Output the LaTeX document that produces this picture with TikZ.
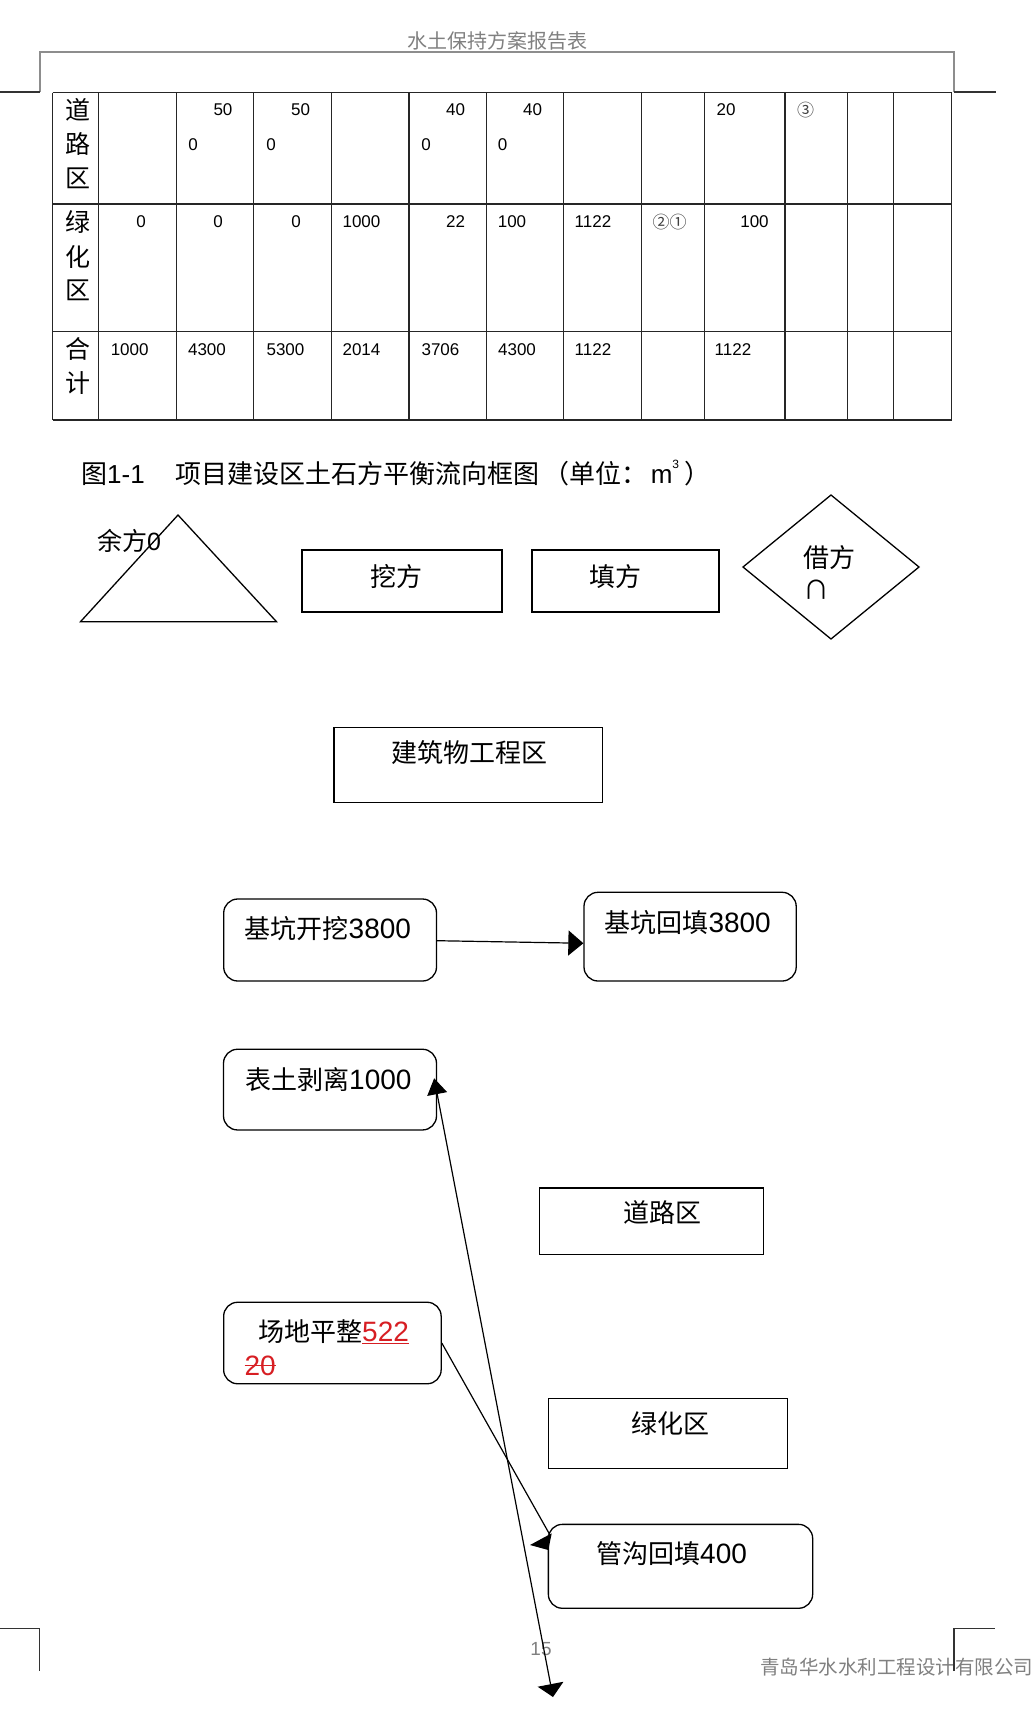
\documentclass[tikz,border=0pt]{standalone}
\usepackage{fontspec}
\setmainfont{Liberation Sans}
\newfontfamily\cjk{Noto Sans CJK SC}
\usetikzlibrary{arrows.meta,calc}
\newcommand\fsz[1]{\fontsize{#1}{#1}\selectfont}
\newcommand\strk[1]{\setbox0\hbox{#1}\rlap{\raisebox{0.33em}{\rule{\wd0}{1.3pt}}}\box0}
\definecolor{hdrgray}{RGB}{128,128,128}
\definecolor{redt}{RGB}{215,30,35}
\begin{document}
\begin{tikzpicture}[x=1pt,y=-1pt,
  boxp/.style={draw, line width=1.3pt, inner sep=0pt},
  boxr/.style={boxp, rounded corners=14pt},
  lbl/.style={inner sep=0pt, anchor=west},
  tnum/.style={inner sep=0pt, font=\fsz{17}},
  tcirc/.style={inner sep=0pt, font=\cjk\fsz{17}, text=black!75},
  rowlbl/.style={inner sep=0pt, font=\cjk\fsz{25}},
  tline/.style={line width=1.3pt, black!85},
  shp/.style={line width=1.3pt},
  conn/.style={line width=1.2pt},
  tipA/.style={-{Triangle[length=15pt,width=25pt]}},
  cornermark/.style={line width=1.1pt, black!80}
]
\fill[white] (0,0) rectangle (1035,1719);
\useasboundingbox (0,0) rectangle (1035,1719);

% ---------- page header ----------
\node[font=\cjk\fsz{20}, text=hdrgray, inner sep=0pt] (hdr) at (497,41) {水土保持方案报告表};
\draw[hdrgray!90, line width=1.2pt] (40,92) -- (40,52) -- (954,52) -- (954,92);
\draw[cornermark] (0,92) -- (40,92);
\draw[cornermark] (954,92) -- (996,92);

% ---------- table ----------
\foreach \x in {52.7,98.7,176.3,253.7,331.3,409,486.3,563.7,641.3,704.3,785,847.7,893.7,951.7}
  \draw[tline] (\x,92.7) -- (\x,420);
\foreach \y in {92.7,204,331.7,420}
  \draw[tline] (52.7,\y) -- (951.7,\y);

\node[rowlbl] (ra1) at (78,110) {道};
\node[rowlbl] (ra2) at (78,144) {路};
\node[rowlbl] (ra3) at (78,178) {区};
\node[rowlbl] (rb1) at (78,221.7) {绿};
\node[rowlbl] (rb2) at (78,256.7) {化};
\node[rowlbl] (rb3) at (78,290) {区};
\node[rowlbl] (rc1) at (78,349.3) {合};
\node[rowlbl] (rc2) at (78,383) {计};

% row 1
\node[tnum] (a2a) at (223,110) {50};
\node[tnum] (a2b) at (193,144.3) {0};
\node[tnum] (a3a) at (300.5,110) {50};
\node[tnum] (a3b) at (271,144.3) {0};
\node[tnum] (a5a) at (455.5,110) {40};
\node[tnum] (a5b) at (426,144.3) {0};
\node[tnum] (a6a) at (532.5,110) {40};
\node[tnum] (a6b) at (502.5,144.3) {0};
\node[tnum] (a9) at (726,110) {20};
\node[tcirc] (a10) at (805.5,110) {③};
% row 2
\node[tnum] (b1) at (141,221.7) {0};
\node[tnum] (b2) at (218,221.7) {0};
\node[tnum] (b3) at (296,221.7) {0};
\node[tnum] (b4) at (361.5,221.7) {1000};
\node[tnum] (b5) at (455.5,221.7) {22};
\node[tnum] (b6) at (512,221.7) {100};
\node[tnum] (b7) at (593,221.7) {1122};
\node[tcirc] (b8) at (669.5,221.7) {②①};
\node[tnum] (b9) at (754.5,221.7) {100};
% row 3
\node[tnum] (c1) at (129.7,349.3) {1000};
\node[tnum] (c2) at (207,349.3) {4300};
\node[tnum] (c3) at (285.5,349.3) {5300};
\node[tnum] (c4) at (361.5,349.3) {2014};
\node[tnum] (c5) at (440.5,349.3) {3706};
\node[tnum] (c6) at (517,349.3) {4300};
\node[tnum] (c7) at (593,349.3) {1122};
\node[tnum] (c9) at (733,349.3) {1122};

% ---------- caption ----------
\node[lbl, font=\fsz{26}] (cap) at (81,473)
  {{\cjk 图}1-1\hspace{5pt}{\cjk 　项目建设区土石方平衡流向框图}\hspace{4pt}{\cjk （单位：}\hspace{3pt}m\raisebox{0.6em}{\fsz{12}3}\hspace{5pt}{\cjk ）}};

% ---------- legend ----------
\draw[shp] (178,515) -- (80.5,621.7) -- (276.5,621.7) -- cycle;
\node[lbl, font=\fsz{25}] (yf) at (97,541) {{\cjk 余方}0};

\node[boxp, minimum width=200pt, minimum height=62pt] (wf) at (402,581) {};
\node[lbl, font=\cjk\fsz{26}] (wft) at (370.7,576.5) {挖方};

\node[boxp, minimum width=187pt, minimum height=62pt] (tf) at (625.5,581) {};
\node[lbl, font=\cjk\fsz{26}] (tft) at (589,576.5) {填方};

\draw[shp] (831,495) -- (919,567) -- (831,639) -- (743,567) -- cycle;
\node[lbl, font=\cjk\fsz{26}] (jft) at (803,557.5) {借方};
\node[lbl, font=\cjk\fsz{26}] (jfn) at (803,590) {∩};

% ---------- flow diagram ----------
\node[boxp, minimum width=268.5pt, minimum height=75.4pt] (jz) at (468.25,765) {};
\node[lbl, font=\cjk\fsz{26}] (jzt) at (391,753) {建筑物工程区};

\node[boxr, minimum width=212.8pt, minimum height=82pt] (kw) at (330.1,940) {};
\node[lbl] (kwt) at (244.5,928.5) {{\cjk\fsz{26}基坑开挖}{\fsz{28}3800}};

\node[boxr, minimum width=212.2pt, minimum height=88.7pt] (ht) at (690.1,936.65) {};
\node[lbl] (htt) at (604.3,922.5) {{\cjk\fsz{26}基坑回填}{\fsz{28}3800}};

\draw[conn, tipA] ($(kw.east)+(0,0.7)$) -- ($(ht.west)+(0,6.6)$);

\node[boxr, minimum width=213pt, minimum height=80.7pt] (bt) at (330,1089.6) {};
\node[lbl] (btt) at (245,1080) {{\cjk\fsz{26}表土剥离}{\fsz{28}1000}};

\node[boxp, minimum width=224pt, minimum height=66.4pt] (dl) at (651.7,1221.2) {};
\node[lbl, font=\cjk\fsz{26}] (dlt) at (622.9,1212.6) {道路区};

\node[boxr, minimum width=217.5pt, minimum height=81.5pt] (cd) at (332.4,1343) {};
\node[lbl] (cdt) at (258,1331.5) {{\cjk\fsz{26}场地平整}{\color{redt}\fsz{28}\underline{522}}};
\node[lbl, text=redt, font=\fsz{28}] (cdt2) at (244.4,1365.5) {\strk{20}};

\node[boxp, minimum width=239.2pt, minimum height=70.4pt] (lh) at (668,1433.4) {};
\node[lbl, font=\cjk\fsz{26}] (lht) at (631.6,1423.3) {绿化区};

\node[boxr, minimum width=264.3pt, minimum height=83.9pt] (gg) at (680.5,1566.3) {};
\node[lbl] (ggt) at (596,1554) {{\cjk\fsz{26}管沟回填}{\fsz{28}400}};

% ---------- page footer ----------
\node[font=\fsz{19}, text=hdrgray, inner sep=0pt] (pg) at (541,1649) {15};
\node[lbl, font=\cjk\fsz{19.5}, text=hdrgray] (ft) at (760,1667) {青岛华水水利工程设计有限公司};
\draw[cornermark] (0,1628.5) -- (39.8,1628.5) -- (39.8,1671);
\draw[cornermark] (954,1671) -- (954,1628.5) -- (995,1628.5);

% ---------- connectors ----------
\coordinate (ggin) at (550,1535);
\draw[conn] (cd.east) -- (ggin);
\fill (530,1545) -- (551.7,1533.3) -- (548.3,1550) -- cycle;

\coordinate (lowend) at (553,1697);
\coordinate (btin) at ($(bt.east)+(-3,-11.3)$);
\draw[conn, {Triangle[length=16pt,width=20pt]}-{Triangle[length=13pt,width=26pt]}] (btin) -- (lowend);
\end{tikzpicture}
\end{document}
